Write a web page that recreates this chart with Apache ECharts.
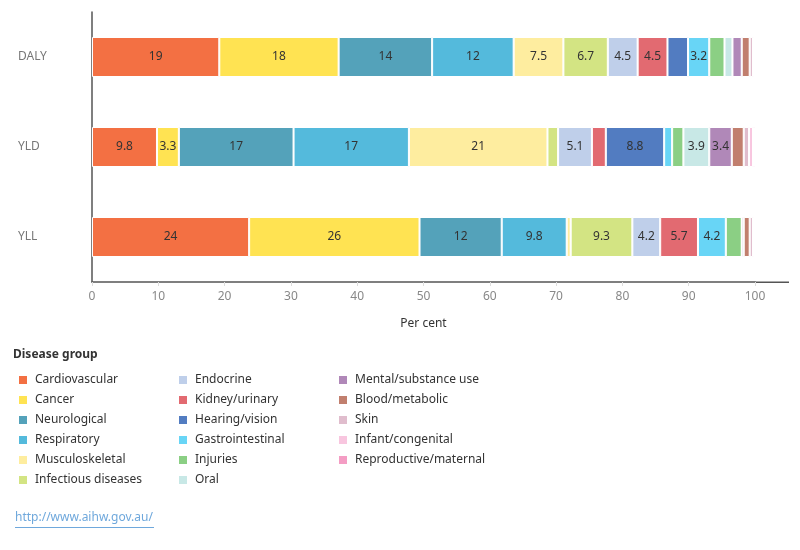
<!DOCTYPE html>
<html>
<head>
<meta charset="utf-8">
<script src="https://cdn.jsdelivr.net/npm/echarts@6/dist/echarts.min.js"></script>
<style>
  html, body { margin: 0; padding: 0; background: #fff; }
  #chart { width: 800px; height: 550px; }
</style>
</head>
<body>
<div id="chart"></div>
<script>
// measures, top to bottom
const measures = ['DALY', 'YLD', 'YLL']

const groups = [
    'Cardiovascular', 'Cancer', 'Neurological', 'Respiratory', 'Musculoskeletal', 'Infectious diseases',
    'Endocrine', 'Kidney/urinary', 'Hearing/vision', 'Gastrointestinal', 'Injuries', 'Oral',
    'Mental/substance use', 'Blood/metabolic', 'Skin', 'Infant/congenital', 'Reproductive/maternal'
]

const colors = [
    '#F37043', '#FFE352', '#54A2BA', '#54BADC', '#FEED9F', '#D3E483',
    '#BFCFEA', '#E26A71', '#527CC1', '#68D5F6', '#8BCF84', '#C8E8E6',
    '#B088B8', '#C17F6E', '#E0BDCD', '#F8C6DF', '#F49DC4'
]

// per cent of each measure, one row per disease group: [DALY, YLD, YLL]
const cardiovascular = [19.2, 9.8, 23.7]
const cancer = [18.0, 3.3, 25.7]
const neurological = [14.1, 17.3, 12.4]
const respiratory = [12.3, 17.4, 9.8]
const musculoskeletal = [7.5, 20.9, 0.6]
const infectious = [6.7, 1.6, 9.3]
const endocrine = [4.5, 5.1, 4.2]
const kidney = [4.5, 2.1, 5.7]
const hearing = [3.1, 8.8, 0]
const gastro = [3.2, 1.2, 4.2]
const injuries = [2.3, 1.7, 2.4]
const oral = [1.2, 3.9, 0]
const mental = [1.4, 3.4, 0.3]
const blood = [1.2, 1.8, 0.9]
const skin = [0.5, 0.8, 0.5]
const infant = [0.2, 0.6, 0.2]
const reproductive = [0.1, 0.3, 0.1]

const values = [
    cardiovascular, cancer, neurological, respiratory, musculoskeletal, infectious,
    endocrine, kidney, hearing, gastro, injuries, oral,
    mental, blood, skin, infant, reproductive
]

const FONT = 'Noto Sans'

function fmt(p) {
    const v = p.value
    if (v < 3.15) return ''
    return v >= 9.95 ? String(Math.round(v)) : v.toFixed(1)
}

const series = groups.map((g, i) => ({
    name: g,
    type: 'bar',
    stack: 'total',
    barWidth: 40,
    data: values[i],
    itemStyle: { color: colors[i], borderColor: '#fff', borderWidth: 1 },
    label: {
        show: true,
        position: 'inside',
        formatter: fmt,
        color: '#333',
        fontFamily: FONT,
        fontSize: 12
    },
    emphasis: { disabled: true }
}))

function legendCol(names, left) {
    return {
        data: names,
        left: left,
        top: 374,
        padding: 0,
        orient: 'vertical',
        itemWidth: 10,
        itemHeight: 10,
        itemGap: 8,
        icon: 'rect',
        selectedMode: false,
        textStyle: { color: '#333', fontFamily: FONT, fontSize: 12, padding: [0, 0, 0, 2] }
    }
}

const chart = echarts.init(document.getElementById('chart'))
chart.setOption({
    animation: false,
    backgroundColor: '#fff',
    color: colors,
    grid: { left: 92, right: 45, top: 12, bottom: 268 },
    xAxis: {
        type: 'value',
        min: 0,
        max: 100,
        interval: 10,
        name: 'Per cent',
        nameLocation: 'middle',
        nameGap: 36,
        nameTextStyle: { color: '#333', fontFamily: FONT, fontSize: 12 },
        axisLine: { show: true, lineStyle: { color: '#555', width: 1.5 } },
        axisTick: { show: true, length: 4, lineStyle: { color: '#ddd' } },
        axisLabel: { color: '#888', fontFamily: FONT, fontSize: 12, margin: 9 },
        splitLine: { show: false }
    },
    yAxis: {
        type: 'category',
        data: measures,
        inverse: true,
        axisLine: { show: true, lineStyle: { color: '#555', width: 1.5 } },
        axisTick: { show: false },
        axisLabel: { color: '#777', fontFamily: FONT, fontSize: 12, align: 'left', margin: 74 }
    },
    legend: [
        legendCol(groups.slice(0, 6), 17),
        legendCol(groups.slice(6, 12), 177),
        legendCol(groups.slice(12), 337)
    ],
    graphic: [
        {
            // the baseline runs on past 100
            type: 'line',
            shape: { x1: 755, y1: 282.25, x2: 789, y2: 282.25 },
            style: { stroke: '#555', lineWidth: 1.5 }
        },
        {
            type: 'text',
            left: 13,
            top: 349,
            style: { text: 'Disease group', fill: '#333', font: 'bold 12px "Noto Sans"' }
        },
        {
            type: 'text',
            left: 15,
            top: 512,
            style: { text: 'http://www.aihw.gov.au/', fill: '#6FA8DC', font: '12px "Noto Sans"' }
        },
        {
            type: 'line',
            shape: { x1: 15, y1: 527.5, x2: 154, y2: 527.5 },
            style: { stroke: '#6FA8DC', lineWidth: 1 }
        }
    ],
    series: series
})
</script>
</body>
</html>
